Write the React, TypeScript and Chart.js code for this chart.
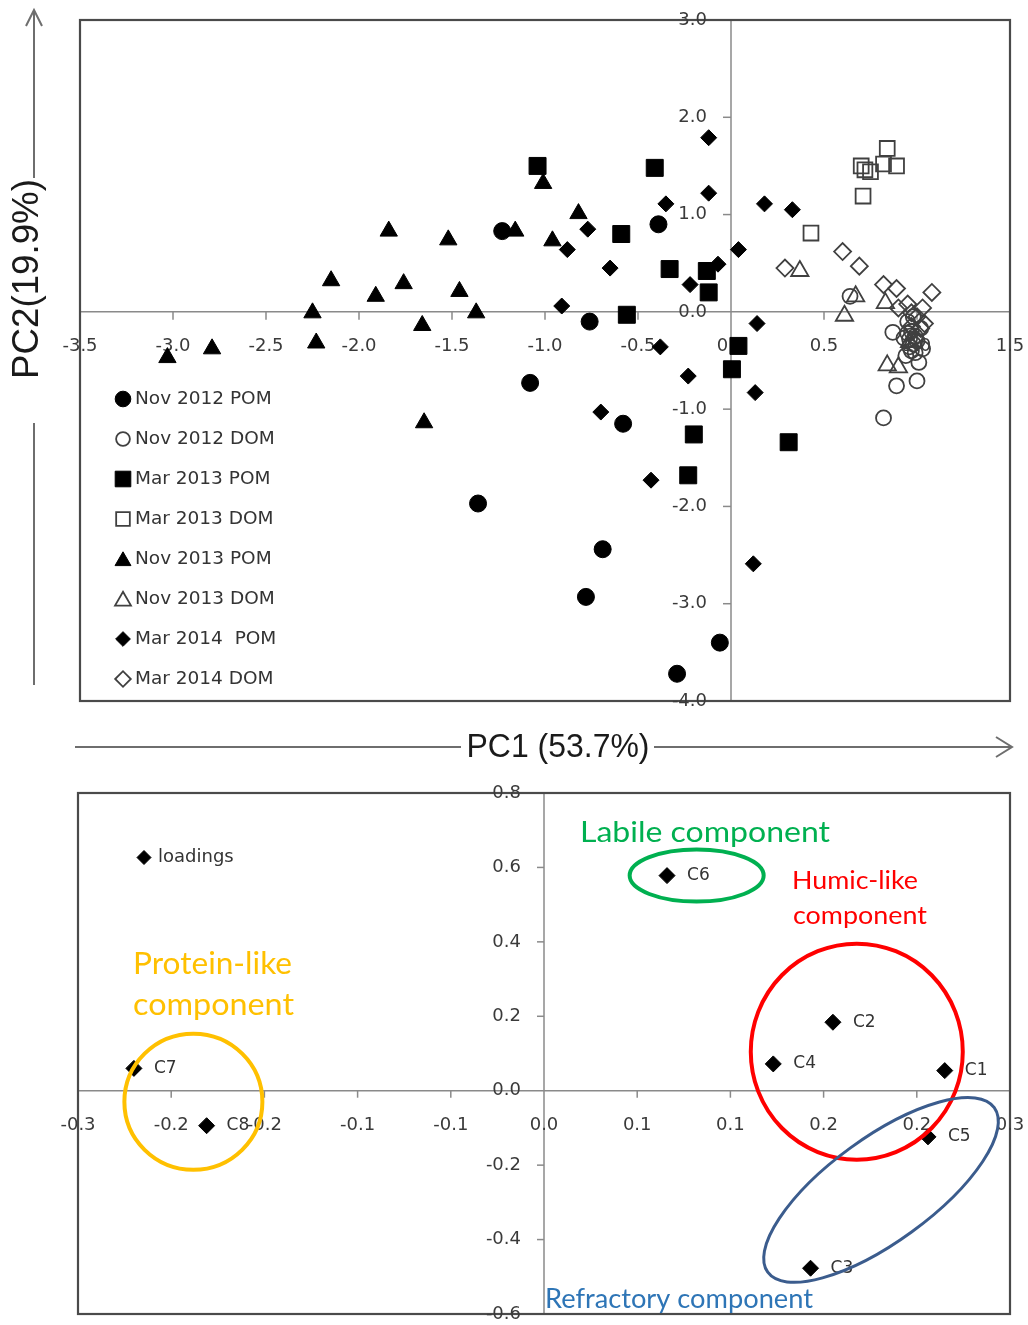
import React, { useEffect, useRef } from 'react';
import { Chart, registerables } from 'chart.js';
import { drawPoint } from 'chart.js/helpers';

Chart.register(...registerables);

// ---------- Scores (top chart) ----------
const seriesNames = ['Nov 2012 POM', 'Nov 2012 DOM', 'Mar 2013 POM', 'Mar 2013 DOM', 'Nov 2013 POM', 'Nov 2013 DOM', 'Mar 2014  POM', 'Mar 2014 DOM'];

const nov2012Pom: number[][] = [
  [-1.23, 0.83], [-0.39, 0.90], [-0.76, -0.10], [-1.08, -0.73], [-0.58, -1.15],
  [-1.36, -1.97], [-0.69, -2.44], [-0.78, -2.93], [-0.06, -3.40], [-0.29, -3.72],
];
const nov2012Dom: number[][] = [
  [0.64, 0.16], [0.87, -0.21], [0.82, -1.09], [0.89, -0.76], [1.00, -0.71], [1.01, -0.52],
  [0.95, -0.10], [0.97, -0.20], [0.93, -0.27], [1.00, -0.30], [0.96, -0.36], [0.99, -0.42],
  [0.94, -0.45], [1.02, -0.17], [0.98, -0.05], [1.03, -0.38], [0.96, -0.28], [0.98, -0.33],
  [0.95, -0.22], [0.99, -0.25], [0.97, -0.40],
];
const mar2013Pom: number[][] = [
  [-1.04, 1.50], [-0.41, 1.48], [-0.59, 0.80], [-0.33, 0.44], [-0.13, 0.42], [-0.12, 0.20],
  [-0.56, -0.03], [0.04, -0.35], [0.005, -0.59], [-0.20, -1.26], [-0.23, -1.68], [0.31, -1.34],
];
const mar2013Dom: number[][] = [
  [0.84, 1.68], [0.89, 1.50], [0.70, 1.50], [0.75, 1.44], [0.72, 1.46], [0.82, 1.52],
  [0.71, 1.19], [0.43, 0.81],
];
const nov2013Pom: number[][] = [
  [-3.03, -0.47], [-2.79, -0.38], [-2.23, -0.32], [-2.25, -0.01], [-2.15, 0.32], [-1.91, 0.16],
  [-1.84, 0.83], [-1.76, 0.29], [-1.66, -0.14], [-1.65, -1.14], [-1.52, 0.74], [-1.46, 0.21],
  [-1.37, -0.01], [-1.16, 0.83], [-1.01, 1.32], [-0.96, 0.73], [-0.82, 1.01],
];
const nov2013Dom: number[][] = [
  [0.37, 0.42], [0.67, 0.16], [0.61, -0.04], [0.83, 0.09], [0.84, -0.55], [0.90, -0.57],
  [0.96, -0.31],
];
const mar2014Pom: number[][] = [
  [-0.12, 1.79], [-0.12, 1.22], [-0.35, 1.11], [0.18, 1.11], [0.33, 1.05], [0.04, 0.64],
  [-0.07, 0.49], [-0.22, 0.28], [-0.65, 0.45], [-0.77, 0.85], [-0.88, 0.64], [-0.91, 0.06],
  [0.14, -0.12], [-0.38, -0.36], [-0.23, -0.66], [0.13, -0.83], [-0.70, -1.03], [-0.43, -1.73],
  [0.12, -2.59],
];
const mar2014Dom: number[][] = [
  [0.29, 0.45], [0.60, 0.62], [0.69, 0.47], [0.82, 0.28], [0.89, 0.24], [1.08, 0.20],
  [1.03, 0.04], [0.90, 0.04], [0.97, -0.01], [1.04, -0.12], [1.02, -0.17], [0.95, 0.08],
  [0.97, -0.15], [0.99, -0.27], [1.00, -0.05],
];

const scoreXTicks = [-3.5, -3.0, -2.5, -2.0, -1.5, -1.0, -0.5, 0, 0.5, 1.0, 1.5];
const scoreXTickLabels = ['-3.5', '-3.0', '-2.5', '-2.0', '-1.5', '-1.0', '-0.5', '0.0', '0.5', '1.0', '1.5'];
const scoreYTicks = [3, 2, 1, 0, -1, -2, -3, -4];
const scoreYTickLabels = ['3.0', '2.0', '1.0', '0.0', '-1.0', '-2.0', '-3.0', '-4.0'];

// ---------- Loadings (bottom chart) ----------
const loadingNames = ['C1', 'C2', 'C3', 'C4', 'C5', 'C6', 'C7', 'C8'];
const loadingX = [0.215, 0.155, 0.143, 0.123, 0.206, 0.066, -0.220, -0.181];
const loadingY = [0.054, 0.184, -0.477, 0.072, -0.124, 0.578, 0.060, -0.094];

const loadXTicks = [-0.25, -0.2, -0.15, -0.1, -0.05, 0, 0.05, 0.1, 0.15, 0.2, 0.25];
const loadXTickLabels = ['-0.3', '-0.2', '-0.2', '-0.1', '-0.1', '0.0', '0.1', '0.1', '0.2', '0.2', '0.3'];
const loadYTicks = [0.8, 0.6, 0.4, 0.2, 0, -0.2, -0.4, -0.6];
const loadYTickLabels = ['0.8', '0.6', '0.4', '0.2', '0.0', '-0.2', '-0.4', '-0.6'];

// ---------- styles ----------
const scoreSeries = [nov2012Pom, nov2012Dom, mar2013Pom, mar2013Dom, nov2013Pom, nov2013Dom, mar2014Pom, mar2014Dom];
const seriesStyles = [
  { pointStyle: 'circle', filled: true, radius: 8.5 },
  { pointStyle: 'circle', filled: false, radius: 7.5 },
  { pointStyle: 'rect', filled: true, radius: 12 },
  { pointStyle: 'rect', filled: false, radius: 10.5 },
  { pointStyle: 'triangle', filled: true, radius: 10 },
  { pointStyle: 'triangle', filled: false, radius: 10 },
  { pointStyle: 'rectRot', filled: true, radius: 8 },
  { pointStyle: 'rectRot', filled: false, radius: 8.5 },
];
const OPEN_COLOR = '#404040';
const TICK_FONT = '18px "DejaVu Sans"';
const TICK_COLOR = '#3a3a3a';

function line(ctx: CanvasRenderingContext2D, x1: number, y1: number, x2: number, y2: number) {
  ctx.beginPath();
  ctx.moveTo(x1, y1);
  ctx.lineTo(x2, y2);
  ctx.stroke();
}

function fitText(ctx: CanvasRenderingContext2D, text: string, x: number, y: number, width: number, font: string, color: string, align: 'left' | 'center' = 'left', rotate = 0) {
  ctx.save();
  ctx.font = font;
  ctx.fillStyle = color;
  ctx.textBaseline = 'middle';
  ctx.textAlign = 'left';
  const w = ctx.measureText(text).width;
  const s = width / w;
  ctx.translate(x, y);
  if (rotate) ctx.rotate(rotate);
  ctx.scale(s, 1);
  ctx.fillText(text, align === 'center' ? -w / 2 : 0, 0);
  ctx.restore();
}

function crossAxesPlugin(cfg: any) {
  return {
    id: 'crossAxes',
    beforeDatasetsDraw(chart: any) {
      const { ctx, chartArea: a, scales } = chart;
      const xs = scales.x, ys = scales.y;
      const x0 = xs.getPixelForValue(0);
      const y0 = ys.getPixelForValue(0);
      ctx.save();
      ctx.strokeStyle = '#8a8a8a';
      ctx.lineWidth = 1.5;
      line(ctx, a.left, y0, a.right, y0);
      line(ctx, x0, a.top, x0, a.bottom);
      ctx.strokeStyle = '#4a4a4a';
      ctx.lineWidth = 2.2;
      ctx.strokeRect(a.left, a.top, a.right - a.left, a.bottom - a.top);
      ctx.strokeStyle = '#8a8a8a';
      ctx.lineWidth = 1.5;
      ctx.font = TICK_FONT;
      ctx.fillStyle = TICK_COLOR;
      ctx.textBaseline = 'middle';
      cfg.xTicks.forEach((v: number, i: number) => {
        const px = xs.getPixelForValue(v);
        if (v !== 0 && px > a.left + 2 && px < a.right - 2) line(ctx, px, y0, px, y0 + cfg.tickLen);
        ctx.textAlign = 'center';
        ctx.fillText(cfg.xLabels[i], px, y0 + cfg.xLabelOffset);
      });
      cfg.yTicks.forEach((v: number, i: number) => {
        const py = ys.getPixelForValue(v);
        if (v !== 0 && py > a.top + 2 && py < a.bottom - 2) line(ctx, x0 - cfg.tickLen, py, x0, py);
        ctx.textAlign = 'right';
        ctx.fillText(cfg.yLabels[i], x0 - cfg.yLabelOffset, py);
      });
      ctx.restore();
    },
  };
}

function styleToPoint(st: any, scale = 1) {
  return { pointStyle: st.pointStyle, rotation: 0, radius: st.radius * scale, borderWidth: st.filled ? 1 : 1.8 };
}

const scoreLegendPlugin = {
  id: 'scoreLegend',
  afterDatasetsDraw(chart: any) {
    const ctx = chart.ctx;
    ctx.save();
    seriesNames.forEach((name, i) => {
      const st = seriesStyles[i];
      const yy = 399 + i * 40;
      ctx.fillStyle = st.filled ? '#000' : 'rgba(0,0,0,0)';
      ctx.strokeStyle = st.filled ? '#000' : OPEN_COLOR;
      ctx.lineWidth = st.filled ? 1 : 1.8;
      drawPoint(ctx, styleToPoint(st, 0.92), 123, yy + (st.pointStyle === 'triangle' ? 2 : 0));
      ctx.font = '18.5px "DejaVu Sans"';
      ctx.fillStyle = '#333';
      ctx.textAlign = 'left';
      ctx.textBaseline = 'middle';
      ctx.fillText(name, 135, yy);
    });
    ctx.restore();
  },
};

const axisTitlesPlugin = {
  id: 'axisTitles',
  afterDraw(chart: any) {
    const ctx = chart.ctx;
    ctx.save();
    ctx.strokeStyle = '#6e6e6e';
    ctx.lineWidth = 2;
    // vertical arrow
    line(ctx, 34, 11, 34, 178);
    line(ctx, 34, 423, 34, 685);
    ctx.beginPath();
    ctx.moveTo(26, 26); ctx.lineTo(34, 10); ctx.lineTo(42, 26);
    ctx.stroke();
    // horizontal arrow
    line(ctx, 75, 747, 461, 747);
    line(ctx, 654, 747, 1011, 747);
    ctx.beginPath();
    ctx.moveTo(996, 737); ctx.lineTo(1012, 747); ctx.lineTo(996, 757);
    ctx.stroke();
    fitText(ctx, 'PC2(19.9%)', 28, 279, 200, '36px "Liberation Sans"', '#1a1a1a', 'center', -Math.PI / 2);
    fitText(ctx, 'PC1 (53.7%)', 558, 748, 183, '34px "Liberation Sans"', '#1a1a1a', 'center');
    ctx.restore();
  },
};

const ellipses = [
  { cx: 0.0819, cy: 0.578, rx: 67, ry: 26, rot: 0, color: '#00B050', width: 4 },
  { cx: 0.1678, cy: 0.105, rx: 106, ry: 108, rot: 0, color: '#FF0000', width: 4 },
  { cx: 0.1808, cy: -0.2666, rx: 140, ry: 52, rot: -36, color: '#3B5C8D', width: 3 },
  { cx: -0.1881, cy: -0.0296, rx: 69, ry: 68, rot: 0, color: '#FFC000', width: 4 },
];

const annotationTexts = [
  { text: 'Labile component', x: 580, y: 833, w: 250, font: '29px Lato', color: '#00B050' },
  { text: 'Humic-like', x: 792, y: 881, w: 126, font: '25px Lato', color: '#FF0000' },
  { text: 'component', x: 793, y: 916, w: 134, font: '25px Lato', color: '#FF0000' },
  { text: 'Protein-like', x: 133, y: 964, w: 159, font: '30px Lato', color: '#FFC000' },
  { text: 'component', x: 133, y: 1005, w: 161, font: '30px Lato', color: '#FFC000' },
  { text: 'Refractory component', x: 545, y: 1300, w: 268, font: '26px Lato', color: '#2E75B6' },
];

const BOTTOM_TOP = 780;

const loadingsOverlayPlugin = {
  id: 'loadingsOverlay',
  afterDatasetsDraw(chart: any) {
    const { ctx, scales } = chart;
    const meta = chart.getDatasetMeta(0);
    ctx.save();
    ctx.font = '17px "DejaVu Sans"';
    ctx.fillStyle = '#333';
    ctx.textAlign = 'left';
    ctx.textBaseline = 'middle';
    meta.data.forEach((el: any, i: number) => {
      ctx.fillText(loadingNames[i], el.x + 20, el.y);
    });
    ctx.fillStyle = '#000';
    ctx.strokeStyle = '#000';
    ctx.lineWidth = 1;
    drawPoint(ctx, { pointStyle: 'rectRot', rotation: 0, radius: 7, borderWidth: 1 }, 144, 857.5 - BOTTOM_TOP);
    ctx.font = '18px "DejaVu Sans"';
    ctx.fillStyle = '#333';
    ctx.fillText('loadings', 158, 857.5 - BOTTOM_TOP);
    ellipses.forEach((e) => {
      const px = scales.x.getPixelForValue(e.cx);
      const py = scales.y.getPixelForValue(e.cy);
      ctx.beginPath();
      ctx.strokeStyle = e.color;
      ctx.lineWidth = e.width;
      ctx.ellipse(px, py, e.rx, e.ry, (e.rot * Math.PI) / 180, 0, Math.PI * 2);
      ctx.stroke();
    });
    annotationTexts.forEach((t) => fitText(ctx, t.text, t.x, t.y - BOTTOM_TOP, t.w, t.font, t.color));
    ctx.restore();
  },
};

export default function App() {
  const topRef = useRef<HTMLCanvasElement>(null);
  const botRef = useRef<HTMLCanvasElement>(null);

  useEffect(() => {
    const topChart = new Chart(topRef.current as HTMLCanvasElement, {
      type: 'scatter',
      data: {
        datasets: scoreSeries.map((pts, i) => {
          const st = seriesStyles[i];
          return {
            label: seriesNames[i],
            data: pts.map(([x, y]) => ({ x, y })),
            pointStyle: st.pointStyle as any,
            pointRadius: st.radius,
            pointHoverRadius: st.radius,
            backgroundColor: st.filled ? '#000' : 'rgba(0,0,0,0)',
            borderColor: st.filled ? '#000' : OPEN_COLOR,
            borderWidth: st.filled ? 1 : 1.8,
            order: 7 - i,
            clip: false as any,
          };
        }),
      },
      options: {
        animation: false,
        responsive: false,
        devicePixelRatio: 1,
        events: [],
        layout: { padding: { left: 80, right: 18, top: 20, bottom: 74 } },
        scales: {
          x: { type: 'linear', min: -3.5, max: 1.5, display: false },
          y: { type: 'linear', min: -4, max: 3, display: false },
        },
        plugins: { legend: { display: false }, tooltip: { enabled: false } },
      },
      plugins: [
        crossAxesPlugin({ xTicks: scoreXTicks, xLabels: scoreXTickLabels, yTicks: scoreYTicks, yLabels: scoreYTickLabels, tickLen: 8, xLabelOffset: 34, yLabelOffset: 24 }),
        scoreLegendPlugin,
        axisTitlesPlugin,
      ],
    } as any);

    const botChart = new Chart(botRef.current as HTMLCanvasElement, {
      type: 'scatter',
      data: {
        datasets: [
          {
            label: 'loadings',
            data: loadingX.map((x, i) => ({ x, y: loadingY[i] })),
            pointStyle: 'rectRot',
            pointRadius: 8,
            pointHoverRadius: 8,
            backgroundColor: '#000',
            borderColor: '#000',
            borderWidth: 1,
            clip: false as any,
          },
        ],
      },
      options: {
        animation: false,
        responsive: false,
        devicePixelRatio: 1,
        events: [],
        layout: { padding: { left: 78, right: 18, top: 13, bottom: 11 } },
        scales: {
          x: { type: 'linear', min: -0.25, max: 0.25, display: false },
          y: { type: 'linear', min: -0.6, max: 0.8, display: false },
        },
        plugins: { legend: { display: false }, tooltip: { enabled: false } },
      },
      plugins: [
        crossAxesPlugin({ xTicks: loadXTicks, xLabels: loadXTickLabels, yTicks: loadYTicks, yLabels: loadYTickLabels, tickLen: 7, xLabelOffset: 35, yLabelOffset: 23 }),
        loadingsOverlayPlugin,
      ],
    } as any);

    return () => {
      topChart.destroy();
      botChart.destroy();
    };
  }, []);

  return (
    <div style={{ position: 'absolute', left: 0, top: 0, width: 1028, height: 1325, background: '#fff', overflow: 'hidden' }}>
      <canvas ref={topRef} width={1028} height={775} style={{ position: 'absolute', left: 0, top: 0, width: 1028, height: 775 }} />
      <canvas ref={botRef} width={1028} height={545} style={{ position: 'absolute', left: 0, top: BOTTOM_TOP, width: 1028, height: 545 }} />
    </div>
  );
}
